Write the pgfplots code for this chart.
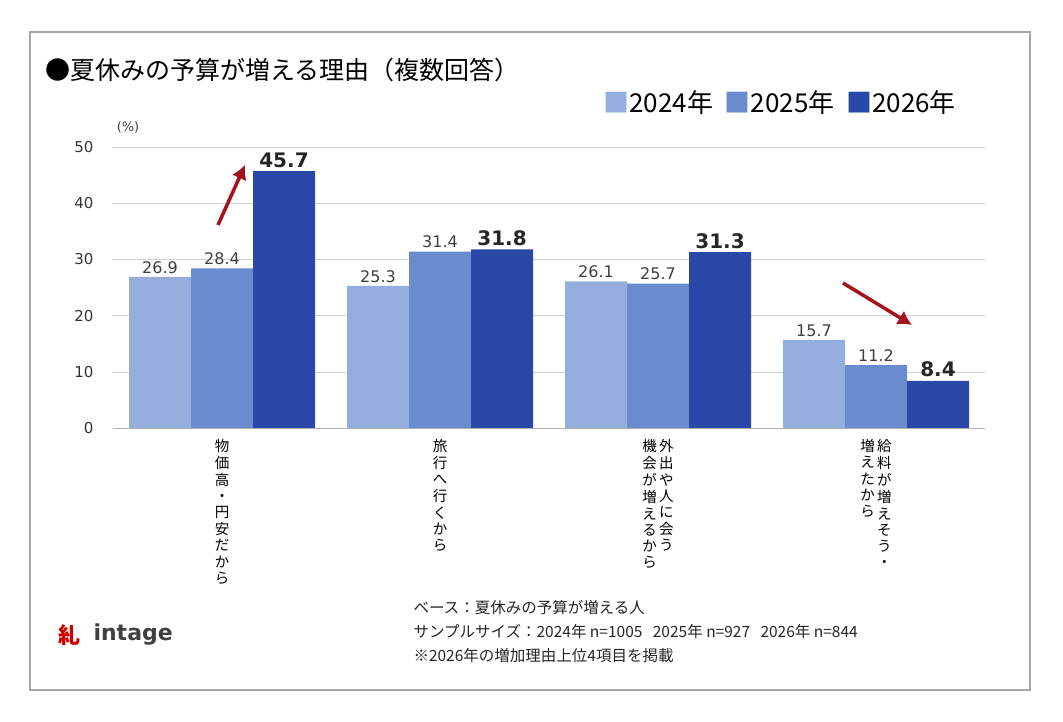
\documentclass[border=0pt]{standalone}
\usepackage{pgfplots}
\pgfplotsset{compat=1.18}
\usetikzlibrary{arrows.meta}
\usepackage{fontspec}
\setmainfont{Noto Sans CJK JP}
\newfontfamily\num{DejaVu Sans}
\definecolor{cA}{HTML}{93AEDD}
\definecolor{cB}{HTML}{6B8BCF}
\definecolor{cC}{HTML}{2948A8}
\definecolor{ar}{HTML}{A3141C}
\newcommand{\vt}[1]{\begin{tabular}[t]{@{}c@{}}#1\end{tabular}}
\begin{document}
\begin{tikzpicture}[x=1pt,y=1pt]
\path[use as bounding box] (0,0) rectangle (1063,722);
\fill[white] (0,0) rectangle (1063,722);
\draw[gray!70,line width=1.2pt] (30,32) rectangle (1030,690);
\node[anchor=west,font=\fontsize{25}{28}\selectfont] at (42,652) {●夏休みの予算が増える理由（複数回答）};
\node[anchor=west,font=\fontsize{26}{28}\selectfont] at (600,619) {\textcolor{cA}{■}2024年\ \ \textcolor{cB}{■}2025年\ \ \textcolor{cC}{■}2026年};
\node[font=\num\fontsize{13}{15}\selectfont,text=black!75] at (128,595) {(\%)};
\begin{axis}[at={(113pt,294pt)},anchor=south west,scale only axis,width=872pt,height=281pt,
 ybar,
 xmin=-0.5,xmax=3.5,ymin=0,ymax=50,
 axis x line*=bottom, axis y line*=left, y axis line style={draw=none}, x axis line style={gray!60},
 ytick={0,10,...,50}, yticklabels={}, ymajorgrids, grid style={gray!35},
 xtick={0,1,2,3}, major tick length=0pt,
 xticklabels={{\vt{物\\価\\高\\・\\円\\安\\だ\\か\\ら}},{\vt{旅\\行\\へ\\行\\く\\か\\ら}},{\vt{機\\会\\が\\増\\え\\る\\か\\ら}\,\vt{外\\出\\や\\人\\に\\会\\う}},{\vt{増\\え\\た\\か\\ら}\,\vt{給\\料\\が\\増\\え\\そ\\う\\・}}},
 xticklabel style={anchor=north,font=\fontsize{14.5}{16}\selectfont,yshift=-8pt},
 clip=false, bar width=62pt, enlargelimits=false,
 nodes near coords, nodes near coords style={text=black!75,font=\num\fontsize{16}{18}\selectfont,/pgf/number format/fixed,/pgf/number format/precision=1,/pgf/number format/fixed zerofill,/pgf/number format/assume math mode=true}]
\addplot[fill=cA,draw=none,bar shift=-62pt] coordinates {(0,26.9)(1,25.3)(2,26.1)(3,15.7)};
\addplot[fill=cB,draw=none,bar shift=0pt] coordinates {(0,28.4)(1,31.4)(2,25.7)(3,11.2)};
\addplot[fill=cC,draw=none,bar shift=62pt,nodes near coords style={font=\num\fontsize{20}{22}\selectfont\bfseries,text=black!85}] coordinates {(0,45.7)(1,31.8)(2,31.3)(3,8.4)};
\end{axis}
\foreach \v/\yy in {0/294,10/350.2,20/406.4,30/462.6,40/518.8,50/575}
 \node[anchor=east,font=\num\fontsize{15}{17}\selectfont,text=black!80] at (97,\yy) {\v};
\draw[ar,line width=3.5pt,-{Latex[length=14pt,width=16pt]}] (218,497) -- (245,557);
\draw[ar,line width=3.5pt,-{Latex[length=14pt,width=16pt]}] (843,439) -- (912,397);
\node[anchor=west,align=left,font=\fontsize{15.5}{24}\selectfont,text=black!85] at (410,90) {ベース：夏休みの予算が増える人\\サンプルサイズ：2024年 n=1005\ \ \ 2025年 n=927\ \ \ 2026年 n=844\\※2026年の増加理由上位4項目を掲載};
\node[anchor=west,font=\fontsize{22}{24}\selectfont\bfseries,text=red!80!black] at (55,87) {糺};
\node[anchor=west,font=\num\fontsize{22}{24}\selectfont\bfseries,text=black!75] at (90,87) {intage};
\end{tikzpicture}
\end{document}
